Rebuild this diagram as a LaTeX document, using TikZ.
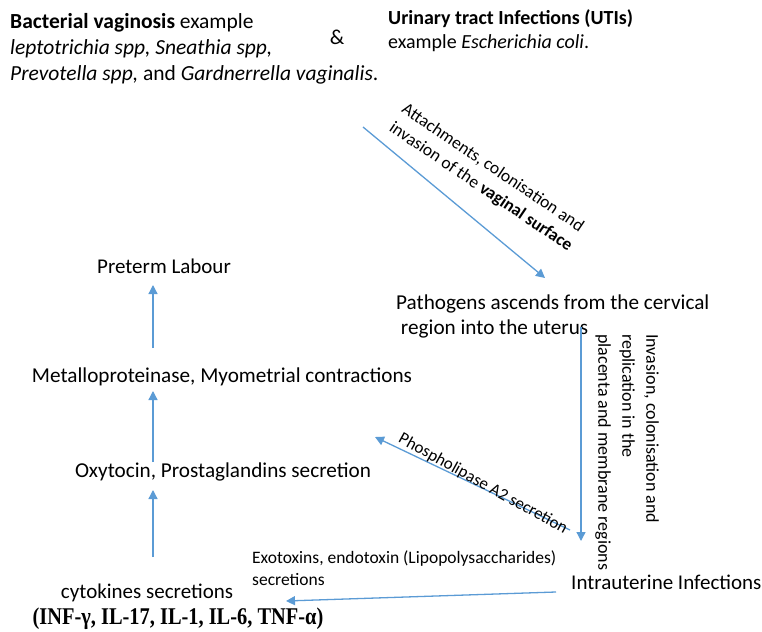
\documentclass[tikz,border=0pt]{standalone}
\usepackage{fontspec}
\setmainfont{Carlito}
\newfontfamily\tnr{Liberation Serif}
\usetikzlibrary{arrows.meta}
\definecolor{arr}{HTML}{5B9BD5}
\tikzset{
  txt/.style={inner sep=0pt, align=left, font=\fontsize{21.2}{25}\selectfont},
  small/.style={inner sep=0pt, align=left, font=\fontsize{17}{22.5}\selectfont},
  conn/.style={draw=arr, line width=1.3pt, -{Triangle[width=9pt,length=9pt]}}
}
\begin{document}
\begin{tikzpicture}[x=1pt,y=-1pt]
\useasboundingbox (0,0) rectangle (762,631);
% texts
\node[txt, anchor=base west, font=\fontsize{21.5}{26}\selectfont] (bv) at (10,81) {\textbf{Bacterial vaginosis} example\\ \textit{leptotrichia spp, Sneathia spp,}\\ \textit{Prevotella spp,} and \textit{Gardnerrella vaginalis}.};
\node[txt] (amp) at (337,37) {\&};
\node[txt, anchor=base west, font=\fontsize{20}{24}\selectfont] (uti) at (388,49) {\textbf{Urinary tract Infections (UTIs)}\\ example \textit{Escherichia coli}.};
\node[txt, anchor=base west] (path) at (396,334) {Pathogens ascends from the cervical\\ \ region into the uterus};
\node[txt, font=\fontsize{21}{25}\selectfont] (pre) at (164,266) {Preterm Labour};
\node[txt] (met) at (222,377) {Metalloproteinase, Myometrial contractions};
\node[txt] (oxy) at (223,472) {Oxytocin, Prostaglandins secretion};
\node[txt, font=\fontsize{21}{25}\selectfont] (cyt) at (147,593) {cytokines secretions};
\node[inner sep=0pt, font=\tnr\bfseries\fontsize{24}{26}\selectfont] (inf) at (178,619) {\scalebox{0.85}[1]{(INF-γ, IL-17, IL-1, IL-6, TNF-α)}};
\node[txt, anchor=west, font=\fontsize{21}{25}\selectfont] (iu) at (571,582) {Intrauterine Infections};
% connector end points
\coordinate (a1s) at (363,127); \coordinate (a1e) at (545,278);
\coordinate (a2s) at (581,327); \coordinate (a2e) at (581,541);
\coordinate (a3s) at (570,530); \coordinate (a3e) at (375,437);
\coordinate (a4s) at (556,592); \coordinate (a4e) at (286,601);
\coordinate (l1s) at (153,557); \coordinate (l1e) at (153,490);
\coordinate (l2s) at (153,462); \coordinate (l2e) at (153,391);
\coordinate (l3s) at (153,348); \coordinate (l3e) at (153,285);
\draw[conn] (a1s) -- (a1e);
\draw[conn] (a2s) -- (a2e);
\draw[conn] (a3s) -- (a3e);
\draw[conn] (a4s) -- (a4e);
\draw[conn] (l1s) -- (l1e);
\draw[conn] (l2s) -- (l2e);
\draw[conn] (l3s) -- (l3e);
% connector labels
\node[small, rotate=-34, font=\fontsize{17.5}{22.5}\selectfont] (lab1) at (487,178) {Attachments, colonisation and\\ invasion of the \textbf{vaginal surface}};
\node[small, rotate=-90, anchor=north west, font=\fontsize{18}{24}\selectfont] (lab2) at (659,334) {Invasion, colonisation and\\ replication in the\\ placenta and membrane regions};
\node[small, rotate=-29, font=\fontsize{17}{22}\selectfont] (lab3) at (483,484) {Phospholipase A2 secretion};
\node[small, anchor=base west, font=\fontsize{17.5}{22}\selectfont] (lab4) at (252,585) {Exotoxins, endotoxin (Lipopolysaccharides)\\ secretions};
\end{tikzpicture}
\end{document}
